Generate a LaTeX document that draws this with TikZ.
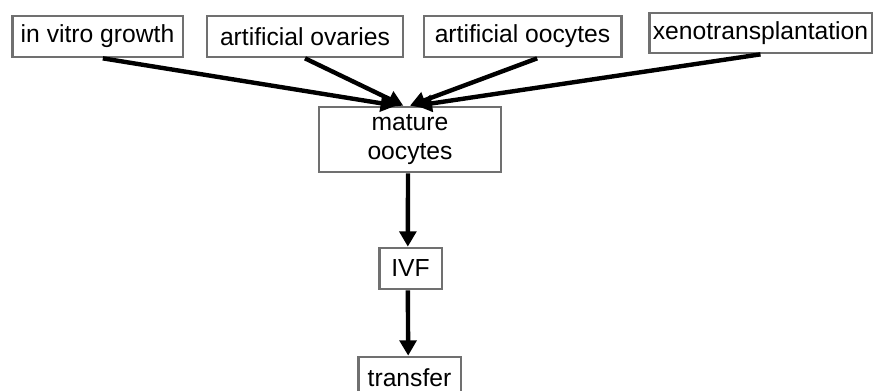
\documentclass[tikz,border=0pt]{standalone}
\usepackage{fontspec}
\setmainfont{Liberation Sans}
\usetikzlibrary{arrows.meta}
\definecolor{boxgray}{RGB}{112,112,112}

\begin{document}
\begin{tikzpicture}[x=0.75pt,y=-0.75pt,
		box/.style={draw=boxgray,line width=2pt,fill=white,inner sep=0pt,minimum height=30.75pt,font=\fontsize{18.5}{21.5}\selectfont},
		flow/.style={line width=3.3pt,-{Triangle[length=11.5pt,width=12.5pt]}}]
		\useasboundingbox (0,0) rectangle (874,390);
		
		%sources on top
		\node[box,minimum width=128pt] (vitro) at (97.5,36.5) {in vitro growth};
		\node[box,minimum width=147pt] (ovaries) at (305,36.5) {artificial ovaries};
		\node[box,minimum width=148pt] (artoocytes) at (522.5,36.5) {artificial oocytes};
		\node[box,minimum width=167pt,minimum height=30pt] (xeno) at (760.5,33) {xenotransplantation};
		
		%chain in the middle
		\node[box,minimum width=136.5pt,minimum height=48.75pt,align=center] (mature) at (410,139.5) {mature\\oocytes};
		\node[box,minimum width=47pt] (ivf) at (410.5,268.5) {IVF};
		\node[box,minimum width=77pt] (transfer) at (409.5,377.5) {transfer};
		
		%arrows into mature oocytes
		\draw[flow] ([xshift=4pt]vitro.south) -- ([xshift=-10.5pt]mature.north);
		\draw[flow] (ovaries.south) -- ([xshift=-5pt]mature.north);
		\draw[flow] ([xshift=11pt]artoocytes.south) -- ([xshift=0pt]mature.north);
		\draw[flow] (xeno.south) -- ([xshift=5pt]mature.north);
		
		\draw[flow] ([xshift=-1.5pt]mature.south) -- ([xshift=-2pt]ivf.north);
		\draw[flow] ([xshift=-2pt]ivf.south) -- ([xshift=-1pt]transfer.north);
		
	\end{tikzpicture}
\end{document}
